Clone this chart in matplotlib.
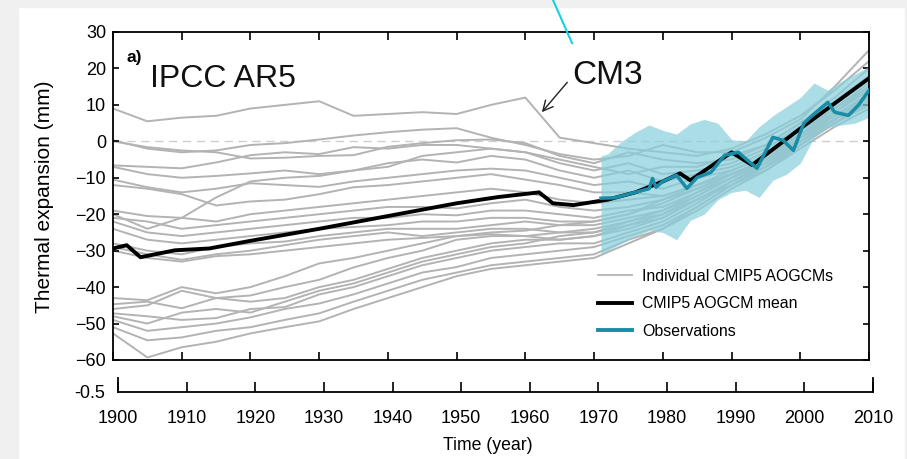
import matplotlib
matplotlib.use("Agg")
import matplotlib.pyplot as plt
from matplotlib.patches import Rectangle
from matplotlib.lines import Line2D

plt.rcParams['font.family'] = ['Liberation Sans', 'DejaVu Sans']

# model years (5-year steps)
years = [1900, 1905, 1910, 1915, 1920, 1925, 1930, 1935, 1940, 1945, 1950, 1955,
         1960, 1965, 1970, 1975, 1980, 1985, 1990, 1995, 2000, 2005, 2010]

# individual CMIP5 AOGCMs (mm)
cm3 = [9, 5.5, 6.5, 7, 9, 10, 11, 7, 7.5, 8, 7.5, 10, 12, 1, -0.5, -2, -3, -4, -2, 2, 7, 14, 22]
u2 = [0.3, -2, -3, -2.5, -1, -0.5, 0.5, 1.6, 2.5, 3.2, 3.6, 1, -1, -3.5, -5, -4, -1, -3, -3, 1, 6, 15, 25]
u3 = [0, -1.6, -2.5, -3, -4.7, -4.5, -4, -3.8, -1.5, -0.5, 0.3, 0.5, -0.5, -4, -6, -3, -5, -6, -5, -1, 5, 12, 20]
u4 = [-6.6, -7, -7.4, -5.8, -3.8, -3, -3.5, -1.6, -2, -1, -1, -2, -3, -6, -8, -6, -9, -8, -6, -2, 4, 10, 17]
u5 = [-7, -9, -10, -9.5, -8.8, -8, -9, -8, -6, -5, -5.8, -4, -5, -8, -10, -8, -11, -9, -7, -3, 3, 9, 15]
u6 = [-10.5, -12.6, -14, -13, -11.5, -12, -12.5, -11, -10, -9, -8, -7.5, -8, -10, -12, -11, -13, -10, -8, -4, 2, 8, 14]
u7 = [-12, -13, -14.5, -17.6, -16.5, -16, -14.5, -12.6, -12, -11, -10, -9, -10.5, -12, -14, -14, -15, -12, -9, -5, 1, 7, 13]
m1 = [-20, -24, -21, -15.4, -11, -10, -9.5, -8, -7, -4, -3, -2, -3, -5, -7, -9, -7, -7, -4, -1, 5, 11, 18]
m2 = [-19, -20.5, -21, -22, -20, -19, -18, -17, -16, -15, -14, -13, -14, -16, -17, -16, -15, -12, -9, -5, 1, 7, 13]
m3 = [-21, -22, -24, -23, -22, -21, -20, -19, -18, -18, -18.4, -17, -16, -18, -19, -18, -16, -13, -9, -6, 0, 6, 12]
m4 = [-22, -25, -26, -25, -24, -23, -22, -21, -21, -20, -20.3, -19, -19, -20, -21, -19, -18, -14, -10, -6, 1, 8, 14]
m5 = [-24, -27, -28, -27, -26, -25, -24, -23.5, -23, -22, -22, -21, -21, -22, -22, -20, -17, -13, -9, -5, 2, 9, 16]
m6 = [-28, -30, -31, -29, -28, -27.5, -26, -25, -24, -24, -24, -23, -22, -23, -23, -21, -19, -15, -10, -6, 1, 8, 15]
m7 = [-29, -31, -32.5, -31, -30, -28.5, -27, -26, -25, -26, -25, -24, -24, -25, -25, -22, -20, -16, -11, -7, 0, 6, 12]
m8 = [-30, -32, -33, -31.5, -31, -30, -29, -28, -27, -26.5, -26, -25.5, -26, -27, -26, -23, -21, -16, -12, -7, -1, 5, 11]
l1 = [-43, -43.6, -40, -41.7, -40, -37, -33.5, -32, -30, -28, -26, -25, -24.5, -23, -22, -20, -16, -12, -8, -4, 2, 7, 12]
l2 = [-44.7, -44, -45.8, -43, -42.3, -40, -38, -34.6, -32, -30, -27, -26, -26, -25, -24, -22, -19, -14, -9, -5, 1, 6, 11]
l3 = [-46, -45, -41, -43, -44, -43, -40, -38, -35, -32, -30, -28, -27, -27, -26, -24, -21, -16, -11, -6, 0, 6, 12]
l4 = [-47.2, -48, -49, -48.5, -46, -45.5, -42, -40, -37, -34, -32, -30, -29, -28, -28, -25, -22, -17, -11, -7, 0, 5, 10]
l5 = [-49, -52, -51, -50, -48.3, -46, -44.5, -42, -39, -36, -34.5, -32, -31, -30, -29, -26, -23, -18, -12, -8, -1, 5, 11]
l6 = [-51, -54.6, -53.8, -52, -51, -49, -47.2, -44, -41, -38, -36, -34, -33, -32, -31, -27, -24, -19, -13, -8, -2, 4, 9]
l7 = [-52.7, -59.3, -56.5, -55, -52.7, -51, -49.4, -46, -43, -40, -37, -35, -34, -33, -32, -28, -24, -18, -12, -7, -1, 5, 10]
l8 = [-48, -50, -47, -46, -47, -44, -41, -39, -36, -33, -31, -29, -28, -26, -25, -23, -20, -15, -10, -5, 1, 7, 13]
models = [cm3, u2, u3, u4, u5, u6, u7, m1, m2, m3, m4, m5, m6, m7, m8,
          l1, l2, l3, l4, l5, l6, l7, l8]

# CMIP5 mean
mean_years = [1900, 1902, 1904, 1909, 1914, 1920, 1930, 1940, 1950, 1956, 1962, 1964,
              1967, 1972, 1976, 1980, 1982.5, 1984, 1990, 1993, 2000, 2010]
mean_vals = [-29.4, -28.5, -31.8, -29.9, -29.4, -27.3, -24, -20.5, -17, -15.3, -14, -17,
             -17.5, -16, -14, -11, -8.8, -10.7, -3, -6.5, 3.5, 17.3]

# observations and uncertainty band
obs_years = [1971, 1973, 1974, 1975, 1976, 1978, 1978.5, 1979, 1980, 1982, 1983.5, 1985,
             1987, 1989, 1991, 1992, 1993.7, 1996, 1997.5, 1999, 2000.5, 2002, 2004,
             2005, 2007, 2008.5, 2010]
obs_vals = [-15.6, -15.5, -15, -14.5, -14, -13, -10.2, -12.6, -11, -9.3, -12.9, -9.9,
            -8.5, -3.8, -3, -4.7, -7.4, 1.1, 0.3, -2.5, 4.9, 7.5, 10.7,
            8, 7.1, 10, 14]
band_years = [1971, 1972, 1974, 1976, 1978, 1980, 1982, 1984, 1986, 1988, 1990, 1992,
              1994, 1996, 1998, 2000, 2002, 2004, 2006, 2008, 2010]
band_hi = [-4, -3.4, 0, 2.5, 4.5, 3, 2, 4.8, 6, 5, 0.5, 0, 4, 7, 9.5, 12, 16, 14,
           16.5, 18.5, 20.5]
band_lo = [-31, -30, -28, -26, -24.5, -25, -27, -21.7, -20, -16, -14, -13.4, -15.4,
           -10.7, -9, -6, 1, 3.8, 4.5, 5, 6.6]

decades = list(range(1900, 2011, 10))
yticks = [30, 20, 10, 0, -10, -20, -30, -40, -50, -60]

GRAY = '#b3b3b3'
TEAL = '#1a8ca6'
BAND = '#86cfdb'


def main():
    fig = plt.figure(figsize=(9.07, 4.59), dpi=100)
    fig.patch.set_facecolor('white')
    # screenshot border
    for r in [(0, 0, 18 / 907, 1), (0, 1 - 7 / 459, 1, 7 / 459), (905 / 907, 0, 2 / 907, 1)]:
        fig.add_artist(Rectangle(r[:2], r[2], r[3], transform=fig.transFigure,
                                 color='#f0f0f0', zorder=0))

    ax = fig.add_axes([113 / 907, 1 - 360 / 459, 756 / 907, 328 / 459])
    ax.axhline(0, color='#cfcfcf', lw=1, dashes=(6, 4), zorder=0)
    for m in models:
        ax.plot(years, m, color=GRAY, lw=1.4, zorder=1)
    ax.fill_between(band_years, band_lo, band_hi, color=BAND, alpha=0.7, lw=0, zorder=2)
    ax.plot(mean_years, mean_vals, color='black', lw=2.8, zorder=3)
    ax.plot(obs_years, obs_vals, color=TEAL, lw=2.5, zorder=4)

    ax.set_xlim(1900, 2010)
    ax.set_ylim(-60, 30)
    ax.set_xticks(decades)
    ax.set_yticks(yticks)
    ax.tick_params(axis='x', direction='in', length=6, width=1.2, top=True,
                   labelbottom=False)
    ax.tick_params(axis='y', direction='in', length=4.5, width=1.2, right=True,
                   labelsize=13, pad=5)
    for s in ax.spines.values():
        s.set_linewidth(1.3)

    # annotations
    ax.text(1901.9, 21.8, 'a)', fontsize=12.5, fontweight='bold', va='baseline')
    ax.text(1905.4, 15, 'IPCC AR5', fontsize=23, va='baseline', color='#111111')
    ax.text(1966.8, 15.8, 'CM3', fontsize=24, va='baseline', color='#111111')
    ax.annotate('', xy=(1962.4, 8), xytext=(1966.1, 16.2),
                arrowprops=dict(arrowstyle='->', lw=1, color='#222222',
                                mutation_scale=18, shrinkA=0, shrinkB=0))

    handles = [Line2D([], [], color=GRAY, lw=1.3),
               Line2D([], [], color='black', lw=2.8),
               Line2D([], [], color=TEAL, lw=2.8)]
    ax.legend(handles, ['Individual CMIP5 AOGCMs', 'CMIP5 AOGCM mean', 'Observations'],
              loc='upper left', bbox_to_anchor=(598 / 907, 1 - 269 / 459),
              bbox_transform=fig.transFigure, frameon=False, fontsize=11.4,
              borderpad=0, borderaxespad=0, handlelength=2.15, handletextpad=0.63,
              labelspacing=0.78)

    # lower time axis
    ax2 = fig.add_axes([118 / 907, 1 - 392 / 459, 755 / 907, 14 / 459])
    ax2.set_xlim(1900, 2010)
    ax2.set_ylim(-0.5, 0.5)
    ax2.patch.set_alpha(0)
    ax2.spines['top'].set_visible(False)
    for s in ax2.spines.values():
        s.set_linewidth(1.3)
    ax2.set_xticks(decades)
    ax2.set_yticks([-0.5])
    ax2.set_yticklabels(['-0.5'])
    ax2.tick_params(axis='x', direction='in', length=7, width=1.2, labelsize=13, pad=13)
    ax2.tick_params(axis='y', length=0, labelsize=13, pad=9)

    fig.text(488 / 907, 1 - 445 / 459, 'Time (year)', fontsize=12.7, ha='center', va='center')
    fig.text(45 / 907, 1 - 197 / 459, 'Thermal expansion (mm)', fontsize=15,
             rotation=90, ha='center', va='center')

    # stray cyan pointer line at the top
    fig.add_artist(Line2D([553 / 907, 572 / 907], [1, 1 - 43 / 459],
                          transform=fig.transFigure, color='#14d2e6', lw=1.5))

    fig.savefig('out.png', dpi=100)


if __name__ == "__main__":
    main()
